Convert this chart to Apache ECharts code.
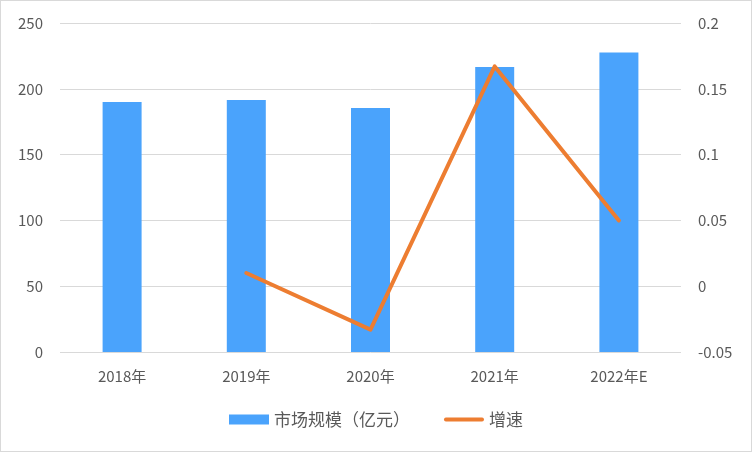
<!DOCTYPE html>
<html>
<head>
<meta charset="utf-8">
<script src="https://cdn.jsdelivr.net/npm/echarts@6/dist/echarts.min.js"></script>
<style>
  html, body { margin: 0; padding: 0; background: #fff; }
  #chart { width: 750px; height: 450px; border: 1px solid #d9d9d9; }
</style>
</head>
<body>
<div id="chart"></div>
<script>
// 市场规模与增速
const categories = ['2018年', '2019年', '2020年', '2021年', '2022年E'];
const marketSize = [190, 191.5, 185.5, 216.5, 227.5];   // 亿元
const growthRate = [null, 0.01, -0.033, 0.167, 0.05];
const leftTicks = { min: 0, max: 250, interval: 50 };
const rightTicks = { min: -0.05, max: 0.2, interval: 0.05 };

const FONT = '"Noto Sans CJK SC", "Noto Sans", sans-serif';
// thick rounded stroke used as the line legend marker
const LINE_ICON = 'path://M2,0 L40,0 A2,2 0 0 1 40,4 L2,4 A2,2 0 0 1 2,0 Z';

const chart = echarts.init(document.getElementById('chart'), null, { renderer: 'canvas' });

chart.setOption({
  animation: false,
  textStyle: { fontFamily: FONT },
  grid: { left: 59, right: 70, top: 22, bottom: 99, containLabel: false },
  legend: {
    bottom: 18,
    left: 'center',
    itemGap: 34,
    itemWidth: 40,
    itemHeight: 10,
    textStyle: { fontSize: 17, color: '#595959', fontFamily: FONT },
    data: [
      { name: '市场规模（亿元）', icon: 'rect' },
      { name: '增速', icon: LINE_ICON, itemStyle: { color: '#ED7D31' } }
    ]
  },
  xAxis: {
    type: 'category',
    data: categories,
    axisLine: { show: false },
    axisTick: { show: false },
    axisLabel: { fontSize: 15, color: '#595959', margin: 17 }
  },
  yAxis: [
    {
      type: 'value',
      min: leftTicks.min, max: leftTicks.max, interval: leftTicks.interval,
      axisLine: { show: false },
      axisTick: { show: false },
      splitLine: { lineStyle: { color: '#d9d9d9', width: 1 } },
      axisLabel: { fontSize: 15, color: '#595959', margin: 17 }
    },
    {
      type: 'value',
      min: rightTicks.min, max: rightTicks.max, interval: rightTicks.interval,
      axisLine: { show: false },
      axisTick: { show: false },
      splitLine: { show: false },
      axisLabel: {
        fontSize: 15, color: '#595959', margin: 17,
        formatter: v => String(Math.round(v * 100) / 100)
      }
    }
  ],
  series: [
    {
      name: '市场规模（亿元）',
      type: 'bar',
      data: marketSize,
      barWidth: 39,
      itemStyle: { color: '#4AA3FC' }
    },
    {
      name: '增速',
      type: 'line',
      yAxisIndex: 1,
      data: growthRate,
      symbol: 'none',
      lineStyle: { color: '#ED7D31', width: 4, cap: 'round', join: 'round' },
      itemStyle: { color: '#ED7D31' }
    }
  ]
});
</script>
</body>
</html>
